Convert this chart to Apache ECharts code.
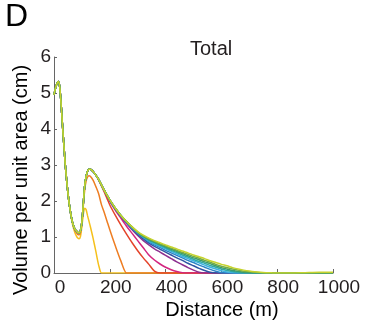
<!DOCTYPE html>
<html>
<head>
<meta charset="utf-8">
<script src="https://cdn.jsdelivr.net/npm/echarts@6/dist/echarts.min.js"></script>
<style>
  html, body { margin: 0; padding: 0; background: #fff; }
  #chart { width: 368px; height: 326px; }
</style>
</head>
<body>
<div id="chart"></div>
<script>
// distance grid (m): dense near the source, coarser further out
const nearDist = [0, 5, 10, 15, 20, 25, 30, 35, 40, 45, 50, 55, 60, 65, 70, 75, 80, 85, 90, 95, 100, 105, 110, 115, 120, 125, 130];
const farDist = [140, 150, 160, 170, 180, 190, 200, 220, 240, 260, 280, 300, 320, 340, 360, 380, 400, 420, 440, 460, 480, 500, 520, 540, 560, 580, 600, 620, 640, 660, 680, 700, 720, 740, 760, 780, 800, 850, 900, 950, 1000];

// near field (0-130 m), shared by most curves
const nearMain = [4.95, 5.12, 5.25, 5.32, 5.2, 4.75, 4.15, 3.6, 3.05, 2.6, 2.22, 1.9, 1.65, 1.45, 1.31, 1.22, 1.17, 1.13, 1.12, 1.18, 1.42, 1.92, 2.42, 2.68, 2.82, 2.88, 2.88];
const nearOrange = [4.95, 5.12, 5.25, 5.32, 5.2, 4.75, 4.15, 3.6, 3.05, 2.6, 2.22, 1.9, 1.65, 1.45, 1.3, 1.19, 1.12, 1.07, 1.06, 1.12, 1.38, 1.86, 2.3, 2.55, 2.66, 2.7, 2.69];
const nearYellow = [4.95, 5.12, 5.25, 5.32, 5.2, 4.75, 4.15, 3.6, 3.05, 2.6, 2.22, 1.9, 1.62, 1.4, 1.24, 1.12, 1.03, 0.97, 0.95, 1.02, 1.3, 1.62, 1.8, 1.76, 1.6, 1.45, 1.3];

// far field (140-1000 m), one per curve
const farYellow = [0.97, 0.6, 0.22, 0, 0, 0, 0, 0, 0, 0, 0, 0, 0, 0, 0, 0, 0, 0, 0, 0, 0, 0, 0, 0, 0, 0, 0, 0, 0, 0, 0, 0, 0, 0, 0, 0, 0, 0, 0, 0, 0];
const farOrange = [2.58, 2.4, 2.2, 1.9, 1.68, 1.44, 1.2, 0.75, 0.33, 0, 0, 0, 0, 0, 0, 0, 0, 0, 0, 0, 0, 0, 0, 0, 0, 0, 0, 0, 0, 0, 0, 0, 0, 0, 0, 0, 0, 0, 0, 0, 0];
const farRed = [2.82, 2.72, 2.58, 2.42, 2.25, 2.07, 1.89, 1.6, 1.33, 1.08, 0.84, 0.62, 0.42, 0.24, 0.05, 0, 0, 0, 0, 0, 0, 0, 0, 0, 0, 0, 0, 0, 0, 0, 0, 0, 0, 0, 0, 0, 0, 0, 0, 0, 0];
const farMagenta = [2.82, 2.72, 2.6, 2.45, 2.29, 2.14, 1.99, 1.74, 1.52, 1.3, 1.1, 0.9, 0.7, 0.5, 0.36, 0.25, 0.16, 0.09, 0.04, 0.008, 0, 0, 0, 0, 0, 0, 0, 0, 0, 0, 0, 0, 0, 0, 0, 0, 0, 0, 0, 0, 0];
const farPurple = [2.82, 2.72, 2.6, 2.45, 2.3, 2.15, 2.01, 1.77, 1.56, 1.38, 1.2, 1.04, 0.9, 0.78, 0.67, 0.58, 0.49, 0.4, 0.31, 0.23, 0.15, 0.08, 0.02, 0, 0, 0, 0, 0, 0, 0, 0, 0, 0, 0, 0, 0, 0, 0, 0, 0, 0];
const farNavy = [2.82, 2.72, 2.6, 2.45, 2.3, 2.16, 2.02, 1.78, 1.58, 1.4, 1.23, 1.08, 0.95, 0.83, 0.74, 0.66, 0.58, 0.5, 0.42, 0.35, 0.27, 0.2, 0.13, 0.07, 0.02, 0, 0, 0, 0, 0, 0, 0, 0, 0, 0, 0, 0, 0, 0, 0, 0];
const farBlue = [2.82, 2.72, 2.6, 2.45, 2.3, 2.16, 2.02, 1.79, 1.59, 1.41, 1.24, 1.1, 0.98, 0.87, 0.78, 0.71, 0.63, 0.56, 0.49, 0.42, 0.35, 0.29, 0.22, 0.16, 0.1, 0.05, 0.01, 0, 0, 0, 0, 0, 0, 0, 0, 0, 0, 0, 0, 0, 0];
const farSky = [2.82, 2.72, 2.6, 2.45, 2.3, 2.16, 2.03, 1.79, 1.59, 1.42, 1.26, 1.11, 1.0, 0.89, 0.81, 0.74, 0.67, 0.6, 0.53, 0.46, 0.4, 0.34, 0.28, 0.22, 0.16, 0.11, 0.065, 0.03, 0.005, 0, 0, 0, 0, 0, 0, 0, 0, 0, 0, 0, 0];
const farCyan = [2.82, 2.72, 2.6, 2.45, 2.3, 2.16, 2.03, 1.8, 1.6, 1.42, 1.27, 1.12, 1.01, 0.91, 0.84, 0.77, 0.7, 0.63, 0.57, 0.5, 0.44, 0.38, 0.32, 0.27, 0.21, 0.16, 0.11, 0.07, 0.04, 0.015, 0, 0, 0, 0, 0, 0, 0, 0, 0, 0, 0];
const farTeal = [2.82, 2.72, 2.6, 2.45, 2.3, 2.16, 2.03, 1.8, 1.6, 1.43, 1.27, 1.13, 1.02, 0.93, 0.86, 0.79, 0.73, 0.66, 0.6, 0.54, 0.48, 0.42, 0.37, 0.31, 0.26, 0.2, 0.15, 0.11, 0.07, 0.045, 0.022, 0.008, 0, 0, 0, 0, 0, 0, 0, 0, 0];
const farGreen = [2.82, 2.72, 2.6, 2.45, 2.3, 2.16, 2.03, 1.8, 1.6, 1.43, 1.28, 1.14, 1.03, 0.95, 0.88, 0.81, 0.75, 0.69, 0.63, 0.57, 0.52, 0.46, 0.41, 0.35, 0.3, 0.24, 0.19, 0.15, 0.11, 0.08, 0.05, 0.035, 0.018, 0.006, 0, 0, 0, 0, 0, 0, 0];
const farLime = [2.82, 2.72, 2.6, 2.45, 2.3, 2.16, 2.03, 1.8, 1.6, 1.43, 1.28, 1.15, 1.05, 0.97, 0.9, 0.84, 0.78, 0.72, 0.67, 0.61, 0.56, 0.5, 0.45, 0.4, 0.34, 0.29, 0.24, 0.2, 0.15, 0.11, 0.08, 0.055, 0.035, 0.02, 0.01, 0.004, 0, 0, 0.01, 0.02, 0.02];

const xTicks = [0, 200, 400, 600, 800, 1000];
const yTicks = [0, 1, 2, 3, 4, 5, 6];

const curves = [
  { near: nearYellow, far: farYellow, color: "#f5c01c" },
  { near: nearOrange, far: farOrange, color: "#ee7d22" },
  { near: nearMain, far: farRed, color: "#e4432a" },
  { near: nearMain, far: farMagenta, color: "#d3257f" },
  { near: nearMain, far: farPurple, color: "#8d3190" },
  { near: nearMain, far: farNavy, color: "#2d56a3" },
  { near: nearMain, far: farBlue, color: "#2a84c5" },
  { near: nearMain, far: farSky, color: "#3cb2e2" },
  { near: nearMain, far: farCyan, color: "#2fa9a6" },
  { near: nearMain, far: farTeal, color: "#3b9c6c" },
  { near: nearMain, far: farGreen, color: "#74ac45" },
  { near: nearMain, far: farLime, color: "#c6d32e" },
];

const dist = nearDist.concat(farDist);
const font = "Liberation Sans, Arial, sans-serif";

const chart = echarts.init(document.getElementById("chart"), null, { renderer: "canvas" });

chart.setOption({
  animation: false,
  backgroundColor: "#fff",
  title: {
    text: "Total",
    left: 190,
    top: 39,
    padding: 0,
    textStyle: { fontFamily: font, fontSize: 20, fontWeight: "normal", color: "#231f20" },
  },
  grid: { left: 54, right: 35, top: 57, bottom: 53 },
  xAxis: {
    type: "value",
    min: 0,
    max: 1000,
    interval: 200,
    axisLine: { lineStyle: { color: "#666", width: 1 } },
    axisTick: { inside: true, length: 4, lineStyle: { color: "#666" } },
    splitLine: { show: false },
    axisLabel: {
      margin: 5,
      padding: [0, 0, 0, 12],
      fontFamily: font,
      fontSize: 19,
      color: "#231f20",
      formatter: (v) => (xTicks.includes(v) ? String(v) : ""),
    },
  },
  yAxis: {
    type: "value",
    min: 0,
    max: 6,
    interval: 1,
    axisLine: { show: true, lineStyle: { color: "#666", width: 1 } },
    axisTick: { show: true, inside: true, length: 3, lineStyle: { color: "#666" } },
    splitLine: { show: false },
    axisLabel: {
      margin: 3,
      fontFamily: font,
      fontSize: 19,
      color: "#231f20",
      formatter: (v) => (yTicks.includes(v) ? String(v) : ""),
    },
  },
  graphic: [
    {
      type: "text",
      left: 5,
      top: 1,
      style: { text: "D", font: "32px " + font, fill: "#000" },
    },
    {
      type: "text",
      x: 222,
      y: 310,
      style: {
        text: "Distance (m)",
        font: "20px " + font,
        fill: "#000",
        textAlign: "center",
        textVerticalAlign: "middle",
      },
    },
    {
      type: "text",
      x: 21,
      y: 180,
      rotation: Math.PI / 2,
      style: {
        text: "Volume per unit area (cm)",
        font: "20px " + font,
        fill: "#000",
        textAlign: "center",
        textVerticalAlign: "middle",
      },
    },
  ],
  series: curves.map((c) => {
    const vals = c.near.concat(c.far);
    return {
      type: "line",
      data: dist.map((x, i) => [x, vals[i]]),
      showSymbol: false,
      symbol: "none",
      smooth: 0.25,
      lineStyle: { color: c.color, width: 1.5 },
      itemStyle: { color: c.color },
    };
  }),
});
</script>
</body>
</html>
